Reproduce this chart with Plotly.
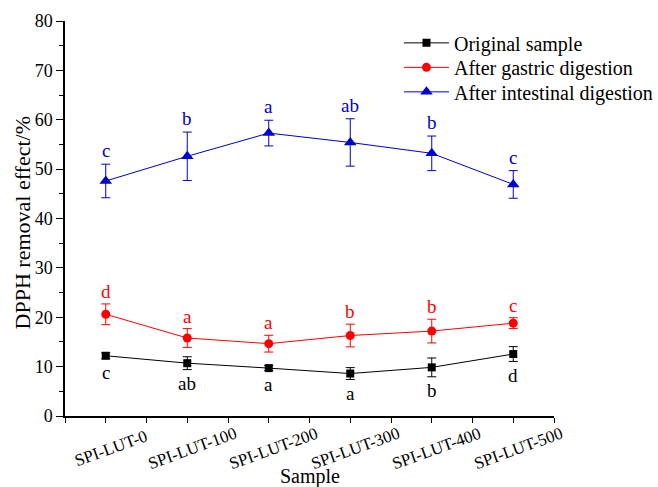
import plotly.graph_objects as go

samples = ["SPI-LUT-0", "SPI-LUT-100", "SPI-LUT-200", "SPI-LUT-300", "SPI-LUT-400", "SPI-LUT-500"]
original = [12.2, 10.7, 9.7, 8.6, 9.85, 12.55]
original_err = [0.6, 1.3, 0.5, 1.2, 1.9, 1.5]
gastric = [20.6, 15.8, 14.65, 16.3, 17.2, 18.8]
gastric_err = [2.1, 1.9, 1.7, 2.3, 2.4, 1.1]
intestinal = [47.6, 52.6, 57.3, 55.4, 53.2, 46.9]
intestinal_err = [3.4, 4.9, 2.6, 4.8, 3.5, 2.8]

original_letters = ["c", "ab", "a", "a", "b", "d"]
gastric_letters = ["d", "a", "a", "b", "b", "c"]
intestinal_letters = ["c", "b", "a", "ab", "b", "c"]

BLACK = "#000000"
RED = "#FF0000"
BLUE = "#0000CD"
FONT = "Liberation Serif, Times New Roman, serif"

xpos = list(range(len(samples)))

fig = go.Figure()

series = [
    ("Original sample", original, original_err, BLACK, "square", 8, "legend", 0.994),
    ("After gastric digestion", gastric, gastric_err, RED, "circle", 9, "legend2", 0.932),
    ("After intestinal digestion", intestinal, intestinal_err, BLUE, "triangle-up", 11, "legend3", 0.870),
]
legend_cfg = {}
for name, vals, errs, col, sym, sz, lg, ly in series:
    fig.add_trace(go.Scatter(
        x=xpos, y=vals, name=name, mode="lines+markers",
        line=dict(color=col, width=1),
        marker=dict(symbol=sym, size=sz, color=col),
        error_y=dict(type="data", array=errs, visible=True, color=col, thickness=1, width=4.5),
        legend=lg,
    ))
    legend_cfg[lg] = dict(x=0.683, y=ly, xanchor="left", yanchor="top", bgcolor="rgba(0,0,0,0)",
                          font=dict(family=FONT, size=20, color=BLACK), itemwidth=45)

annotations = []
for i in xpos:
    annotations.append(dict(x=i, y=original[i] - original_err[i] - 0.3, text=original_letters[i],
                            showarrow=False, font=dict(family=FONT, size=19, color=BLACK),
                            xref="x", yref="y", yanchor="top"))
    annotations.append(dict(x=i, y=gastric[i] + gastric_err[i] + 0.0, text=gastric_letters[i],
                            showarrow=False, font=dict(family=FONT, size=19, color=RED),
                            xref="x", yref="y", yanchor="bottom"))
    annotations.append(dict(x=i, y=intestinal[i] + intestinal_err[i] + 0.2, text=intestinal_letters[i],
                            showarrow=False, font=dict(family=FONT, size=19, color=BLUE),
                            xref="x", yref="y", yanchor="bottom"))

for i, s in enumerate(samples):
    annotations.append(dict(x=i + 0.06, y=-0.082, xref="x", yref="paper", text=s, showarrow=False,
                            textangle=-20, font=dict(family=FONT, size=17, color=BLACK),
                            xanchor="center", yanchor="middle"))

annotations.append(dict(x=0.5, y=-0.153, xref="paper", yref="paper", text="Sample", showarrow=False,
                        font=dict(family=FONT, size=20, color=BLACK), xanchor="center", yanchor="middle"))
annotations.append(dict(x=-0.088, y=0.49, xref="paper", yref="paper", text="DPPH removal effect/%",
                        showarrow=False, textangle=-90,
                        font=dict(family=FONT, size=22, color=BLACK), xanchor="center", yanchor="middle"))

fig.update_layout(
    width=658, height=487,
    margin=dict(l=65, r=104, t=21, b=71, autoexpand=False),
    paper_bgcolor="white", plot_bgcolor="white",
    font=dict(family=FONT, size=18, color=BLACK),
    showlegend=True,
    annotations=annotations,
    **legend_cfg,
)

half_ticks = [k * 0.5 for k in range(-1, 12)]
fig.update_xaxes(
    range=[-0.5, 5.5], tickmode="array", tickvals=half_ticks, ticktext=[""] * len(half_ticks),
    ticks="outside", ticklen=5, tickwidth=1, tickcolor=BLACK,
    showline=True, linecolor=BLACK, linewidth=1.5, showgrid=False, zeroline=False,
)
fig.update_yaxes(
    range=[0, 80], tickmode="linear", dtick=10, tick0=0,
    ticks="outside", ticklen=7, tickwidth=1, tickcolor=BLACK,
    minor=dict(dtick=5, ticks="outside", ticklen=4, tickwidth=1, tickcolor=BLACK, showgrid=False),
    showline=True, linecolor=BLACK, linewidth=1.5, showgrid=False, zeroline=False,
    tickfont=dict(family=FONT, size=18, color=BLACK),
)

fig.write_html("out.html")
